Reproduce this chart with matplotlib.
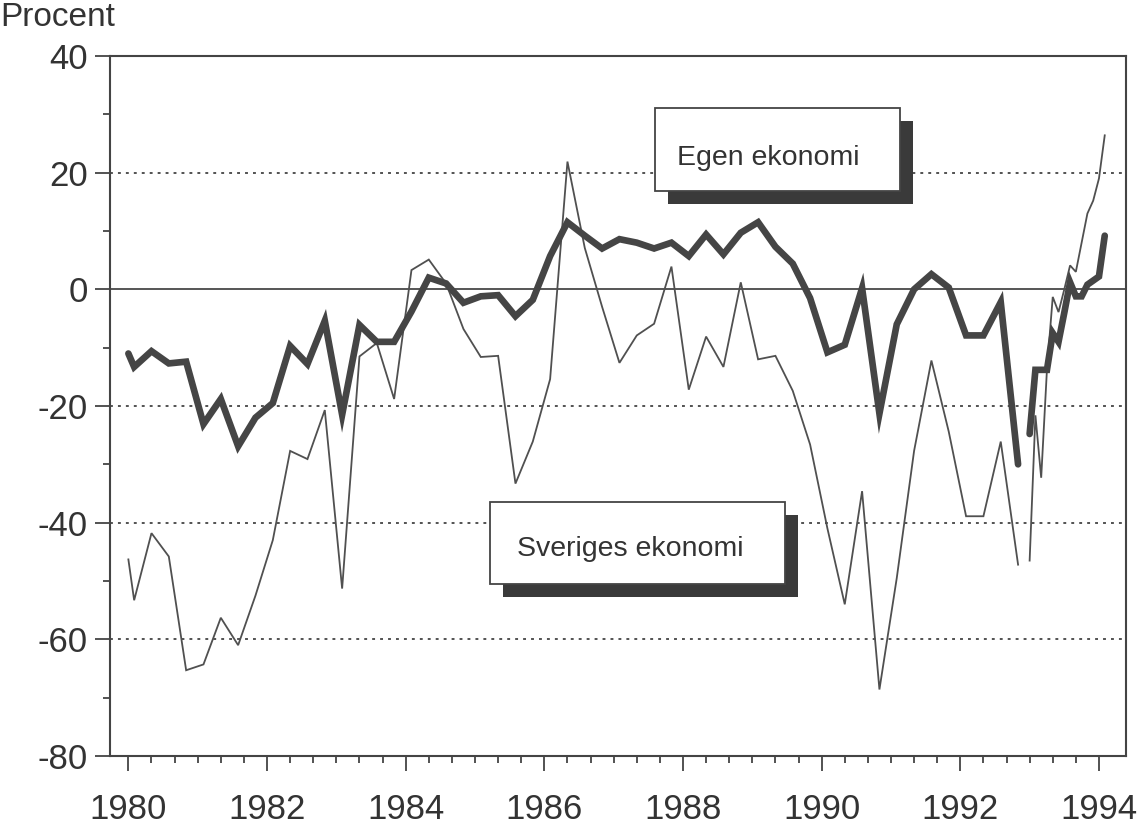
import matplotlib
matplotlib.use("Agg")
import matplotlib.pyplot as plt
from matplotlib.patches import Rectangle
from matplotlib import font_manager

plt.rcParams['font.family'] = ['Liberation Sans', 'DejaVu Sans']
plt.rcParams['axes.unicode_minus'] = False

# ---- data -------------------------------------------------------------
periods_q = ["1980-01", "1980-02", "1980-05", "1980-08", "1980-11",
             "1981-02", "1981-05", "1981-08", "1981-11",
             "1982-02", "1982-05", "1982-08", "1982-11",
             "1983-02", "1983-05", "1983-08", "1983-11",
             "1984-02", "1984-05", "1984-08", "1984-11",
             "1985-02", "1985-05", "1985-08", "1985-11",
             "1986-02", "1986-05", "1986-08", "1986-11",
             "1987-02", "1987-05", "1987-08", "1987-11",
             "1988-02", "1988-05", "1988-08", "1988-11",
             "1989-02", "1989-05", "1989-08", "1989-11",
             "1990-02", "1990-05", "1990-08", "1990-11",
             "1991-02", "1991-05", "1991-08", "1991-11",
             "1992-02", "1992-05", "1992-08", "1992-11"]

egen_q = [-11.0, -13.3, -10.6, -12.7, -12.4,
          -23.1, -18.8, -26.9, -22.0,
          -19.5, -9.7, -12.8, -5.4,
          -21.5, -6.1, -9.0, -9.0,
          -3.8, 2.0, 1.0, -2.3,
          -1.2, -1.0, -4.6, -1.8,
          5.7, 11.5, 9.2, 7.0,
          8.6, 8.0, 7.0, 8.0,
          5.7, 9.4, 6.0, 9.7,
          11.5, 7.3, 4.4, -1.5,
          -10.8, -9.5, 0.2, -21.3,
          -6.0, 0.0, 2.6, 0.3,
          -7.9, -7.9, -2.2, -30.0]

sverige_q = [-46.3, -53.3, -41.8, -45.8, -65.3,
             -64.3, -56.3, -61.0, -52.5,
             -43.0, -27.7, -29.1, -20.7,
             -51.3, -11.5, -9.2, -18.8,
             3.3, 5.1, 1.0, -6.8,
             -11.6, -11.4, -33.3, -26.1,
             -15.4, 21.9, 7.1, -3.0,
             -12.6, -7.9, -5.9, 3.9,
             -17.2, -8.1, -13.3, 1.2,
             -12.0, -11.4, -17.4, -26.6,
             -41.0, -54.0, -34.6, -68.6,
             -49.5, -27.7, -12.2, -24.4,
             -38.9, -38.9, -26.1, -47.2]

periods_m = ["1993-01", "1993-02", "1993-03", "1993-04", "1993-05", "1993-06",
             "1993-07", "1993-08", "1993-09", "1993-10", "1993-11", "1993-12",
             "1994-01", "1994-02"]

egen_m = [-24.8, -13.8, -13.8, -13.8, -7.5, -9.0,
          -4.0, 1.2, -1.2, -1.2, 0.8, 1.5,
          2.2, 9.2]

sverige_m = [-46.5, -21.6, -32.3, -13.7, -1.3, -3.9,
             0.0, 4.1, 3.0, 8.0, 13.0, 15.2,
             19.0, 26.4]

y_ticks = [40, 20, 0, -20, -40, -60, -80]
y_labels = ["40", "20", "0", "-20", "-40", "-60", "-80"]
x_ticks = [1980, 1982, 1984, 1986, 1988, 1990, 1992, 1994]
x_labels = ["1980", "1982", "1984", "1986", "1988", "1990", "1992", "1994"]

label_egen = "Egen ekonomi"
label_sverige = "Sveriges ekonomi"
y_title = "Procent"


def to_year(p):
    y, m = p.split("-")
    return int(y) + (int(m) - 1) / 12.0


xq = [to_year(p) for p in periods_q]
xm = [to_year(p) for p in periods_m]

# narrow font for tick labels if available
names = {f.name for f in font_manager.fontManager.ttflist}
narrow = "Liberation Sans Narrow" in names
tick_family = ['Liberation Sans Narrow', 'DejaVu Sans'] if narrow else ['Liberation Sans', 'DejaVu Sans']
tick_size = 29 if narrow else 25

# ---- figure -----------------------------------------------------------
W, H = 1137, 830
fig = plt.figure(figsize=(W / 100, H / 100), dpi=100)
L, R, T, B = 110, 1126, 56, 756
ax = fig.add_axes([L / W, 1 - B / H, (R - L) / W, (B - T) / H])

ink = "#333333"
heavy = "#454545"
thin = "#505050"

ax.set_xlim(1979.735, 1994.39)
ax.set_ylim(-80, 40)

for v in [20, -20, -40, -60]:
    ax.axhline(v, color="#444444", lw=1.3, ls=(0, (1.6, 2.8)), zorder=1)
ax.axhline(0, color="#555555", lw=1.4, zorder=1)

ax.plot(xq, sverige_q, color=thin, lw=1.3, zorder=3, solid_joinstyle="miter")
ax.plot(xm, sverige_m, color=thin, lw=1.3, zorder=3, solid_joinstyle="miter")
ax.plot(xq, egen_q, color=heavy, lw=4.8, zorder=4, solid_joinstyle="miter",
        solid_capstyle="round")
ax.plot(xm, egen_m, color=heavy, lw=4.8, zorder=4, solid_joinstyle="miter",
        solid_capstyle="round")

# ticks
ax.set_yticks(y_ticks)
ax.set_yticklabels(y_labels)
ax.set_yticks(list(range(-70, 40, 20)), minor=True)
ax.set_xticks(x_ticks)
ax.set_xticklabels(x_labels)
minor_x = [1980 + k / 3 for k in range(0, 43) if k % 6 != 0]
ax.set_xticks(minor_x, minor=True)

ax.tick_params(axis="both", which="major", direction="out", length=10.8,
               width=1.3, color="#444444", labelsize=tick_size, labelcolor=ink)
ax.tick_params(axis="both", which="minor", direction="out", length=5.2,
               width=1.3, color="#444444")
ax.tick_params(axis="x", which="major", pad=15.5)
ax.tick_params(axis="y", which="major", pad=5)
for lab in ax.get_xticklabels() + ax.get_yticklabels():
    lab.set_family(tick_family)

for s in ax.spines.values():
    s.set_color("#444444")
    s.set_linewidth(1.5)


# legend boxes with shadow
def box(x0, y0, x1, y1, text, tx, ty, size):
    dx, dy = 13 / (R - L), 13 / (B - T)
    ax.add_patch(Rectangle((x0 + dx, y0 - dy), x1 - x0, y1 - y0,
                           transform=ax.transAxes, facecolor="#3a3a3a",
                           edgecolor="none", zorder=8, clip_on=False))
    ax.add_patch(Rectangle((x0, y0), x1 - x0, y1 - y0,
                           transform=ax.transAxes, facecolor="white",
                           edgecolor="#444444", lw=1.3, zorder=9,
                           clip_on=False))
    ax.text(tx, ty, text, transform=ax.transAxes, ha="center", va="center",
            fontsize=size, color=ink, zorder=10)


def fx(px):
    return (px - L) / (R - L)


def fy(py):
    return (B - py) / (B - T)


box(fx(655), fy(191), fx(900), fy(108), label_egen, fx(768), fy(158), 20.5)
box(fx(490), fy(584), fx(785), fy(502), label_sverige, fx(630), fy(549), 20.5)

fig.text(0.0, 1 - 2 / H, y_title, ha="left", va="top", fontsize=24,
         color=ink)

fig.savefig("out.png", dpi=100, facecolor="white")
